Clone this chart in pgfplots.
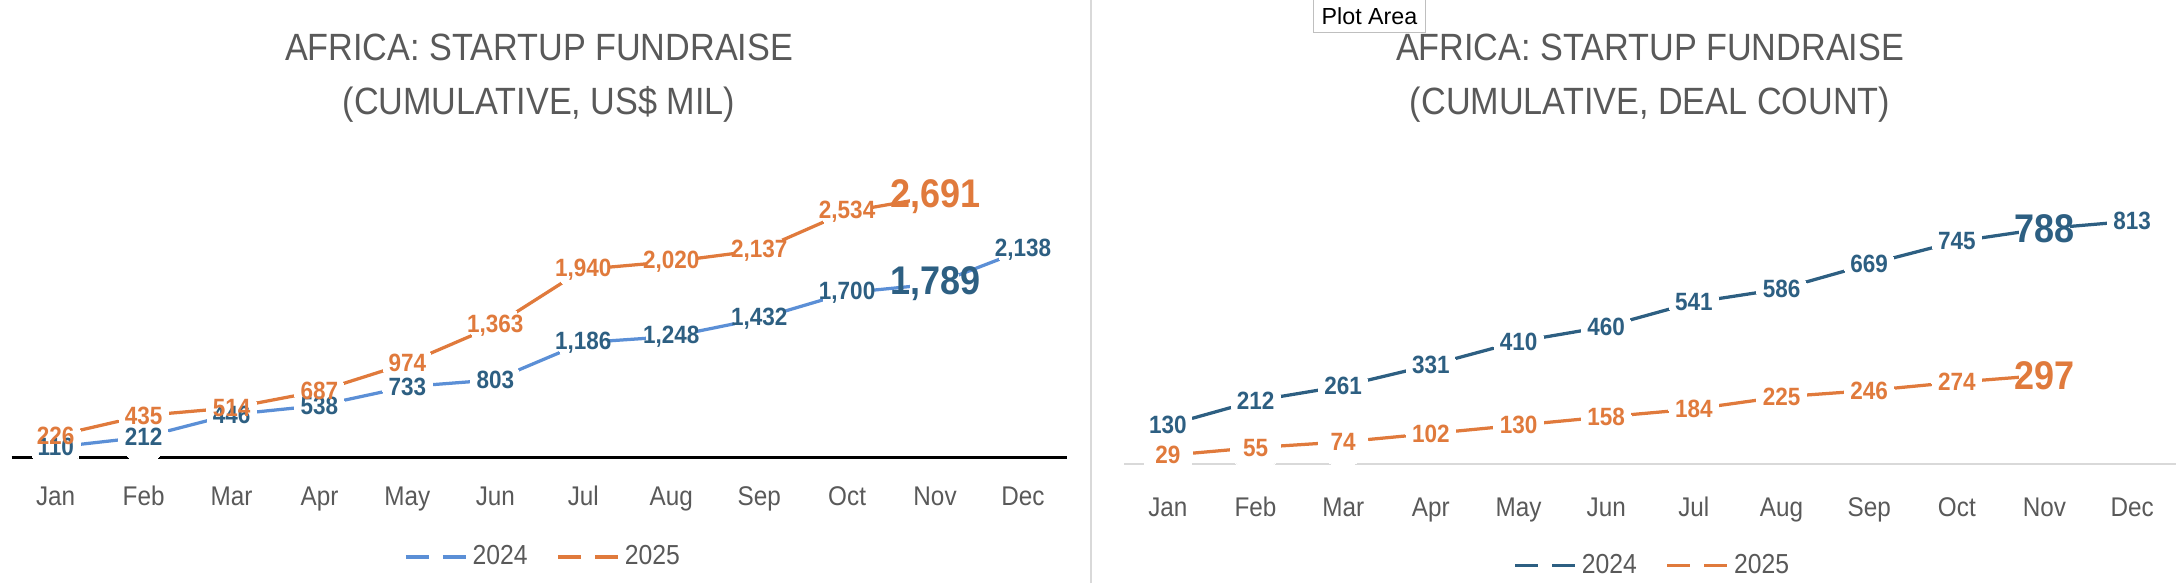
\documentclass[border=0pt]{standalone}
\usepackage{fontspec}
\setmainfont{Liberation Sans}[FakeStretch=0.9]
\newfontfamily\uifont{Liberation Sans}
\usepackage{pgfplots}
\usepackage{pgfplotstable}
\pgfplotsset{compat=1.18}
\definecolor{dblue}{HTML}{2D5F82}
\definecolor{lblue}{HTML}{5B8FD6}
\definecolor{orng}{HTML}{E07A3C}
\definecolor{txtgrey}{HTML}{595959}
\definecolor{axgrey}{HTML}{D9D9D9}

\pgfplotstableread{
m a b
0 110 226
1 212 435
2 446 514
3 538 687
4 733 974
5 803 1363
6 1186 1940
7 1248 2020
8 1432 2137
9 1700 2534
10 1789 2691
11 2138 nan
}\fund

\pgfplotstableread{
m a b
0 130 29
1 212 55
2 261 74
3 331 102
4 410 130
5 460 158
6 541 184
7 586 225
8 669 246
9 745 274
10 788 297
11 813 nan
}\deals

\pgfplotsset{
 /pgf/number format/assume math mode=true,
 /pgf/number format/fixed,
 /pgf/number format/precision=0,
 /pgf/number format/1000 sep={,},
 mystyle/.style={
  scale only axis, clip=false, xmin=-0.5, xmax=11.5, ymin=0,
  axis y line=none, axis x line*=bottom,
  xtick={0,...,11},
  xticklabels={Jan,Feb,Mar,Apr,May,Jun,Jul,Aug,Sep,Oct,Nov,Dec},
  major tick length=0pt,
  xticklabel style={font=\fontsize{10.8}{12}\selectfont, text=txtgrey, anchor=base},
  legend columns=2,
  legend style={draw=none, fill=none, font=\fontsize{11}{12}\selectfont, text=txtgrey,
    anchor=center, inner sep=0pt,
    /tikz/every even column/.append style={column sep=9.6pt},
    nodes={inner sep=2pt}},
  legend image code/.code={
    \draw[##1,mark=none] (0pt,0pt) -- (9.2pt,0pt);
    \draw[##1,mark=none] (14.8pt,0pt) -- (24pt,0pt);},
 },
 ser/.style={line width=1.3pt, mark=*, mark size=10pt,
   mark options={draw=white, fill=white, line width=0pt}},
 lbl/.style={draw=none, mark=none, forget plot, nodes near coords,
   every node near coord/.append style={font=\fontsize{10}{12}\selectfont\bfseries, anchor=center, text=#1}},
 big/.style={draw=none, mark=none, forget plot, nodes near coords,
   every node near coord/.append style={font=\fontsize{16}{18}\selectfont\bfseries, anchor=center, text=#1}},
}

\begin{document}
\begin{tikzpicture}
\path[use as bounding box] (0pt,0pt) rectangle (871.6pt,233.2pt);

% ---------- left chart ----------
\begin{axis}[mystyle,
  at={(4.68pt,50.1pt)}, anchor=south west,
  width=422.1pt, height=116.5pt, ymax=3000,
  axis line style={black, line width=1.2pt},
  xticklabel style={yshift=-18.9pt},
  legend style={at={(0.505,-0.341)}}]
\addplot[color=lblue, ser] table[x=m, y=a] {\fund};
\addlegendentry{2024}
\addplot[color=orng, ser] table[x=m, y=b] {\fund};
\addlegendentry{2025}
\addplot[lbl=dblue, skip coords between index={10}{11}] table[x=m, y=a] {\fund};
\addplot[lbl=orng, skip coords between index={10}{11}] table[x=m, y=b] {\fund};
\addplot[big=dblue, skip coords between index={0}{10}, skip coords between index={11}{12}] table[x=m, y=a] {\fund};
\addplot[big=orng, skip coords between index={0}{10}, skip coords between index={11}{12}] table[x=m, y=b] {\fund};
\end{axis}

% ---------- right chart ----------
\begin{axis}[mystyle,
  at={(449.6pt,47.6pt)}, anchor=south west,
  width=420.8pt, height=119.5pt, ymax=1000,
  axis line style={axgrey, line width=0.7pt},
  xticklabel style={yshift=-21pt},
  legend style={at={(0.5036,-0.34)}}]
\addplot[color=dblue, ser] table[x=m, y=a] {\deals};
\addlegendentry{2024}
\addplot[color=orng, ser] table[x=m, y=b] {\deals};
\addlegendentry{2025}
\addplot[lbl=dblue, skip coords between index={10}{11}] table[x=m, y=a] {\deals};
\addplot[lbl=orng, skip coords between index={10}{11}] table[x=m, y=b] {\deals};
\addplot[big=dblue, skip coords between index={0}{10}, skip coords between index={11}{12}] table[x=m, y=a] {\deals};
\addplot[big=orng, skip coords between index={0}{10}, skip coords between index={11}{12}] table[x=m, y=b] {\deals};
\end{axis}

% titles
\begin{scope}[every node/.style={anchor=base, text=txtgrey, font=\fontsize{15.2}{18}\selectfont, inner sep=0pt}]
\node at (215.6pt,209pt) {AFRICA: STARTUP FUNDRAISE};
\node at (215.6pt,187.4pt) {(CUMULATIVE, US\$ MIL)};
\node at (660pt,209pt) {AFRICA: STARTUP FUNDRAISE};
\node at (660pt,187.4pt) {(CUMULATIVE, DEAL COUNT)};
\end{scope}

% separator
\draw[axgrey, line width=0.8pt] (436.4pt,0pt) -- (436.4pt,233.2pt);

% tooltip
\node[draw=black!25, fill=white, anchor=north west, minimum width=44.8pt,
  minimum height=13.2pt, inner sep=0pt, text=black,
  font=\uifont\fontsize{9.3}{10}\selectfont] at (525.2pt,233.4pt) {Plot Area};
\end{tikzpicture}
\end{document}
